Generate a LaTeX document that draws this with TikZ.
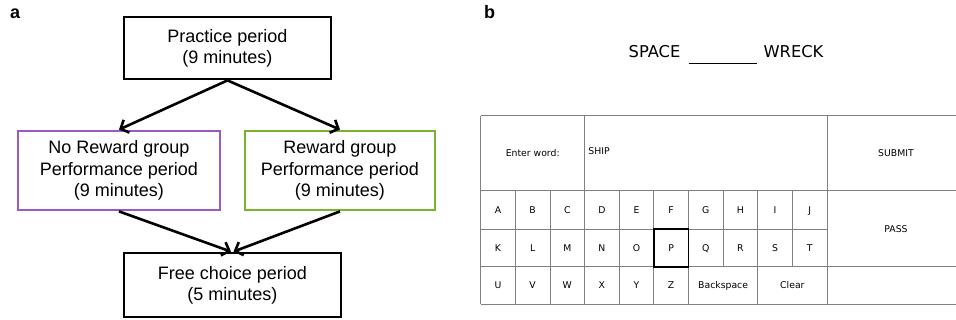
\documentclass[tikz,border=0pt]{standalone}
\usepackage{fontspec}
\setmainfont{Liberation Sans}
\newfontfamily\keyfont{DejaVu Sans}
\usetikzlibrary{arrows.meta}
\definecolor{noRewardPurple}{HTML}{9B59C4}
\definecolor{rewardGreen}{HTML}{78B42C}
\definecolor{gridGray}{gray}{0.5}

\begin{document}
\begin{tikzpicture}[x=1pt,y=-1pt,
  stage/.style={draw, line width=2.8pt, align=center, inner sep=0pt,
    font=\fontsize{18}{21.3}\selectfont},
  flow/.style={line width=2.6pt, -{Straight Barb[length=6.5pt,width=14pt]}},
  panel/.style={font=\fontsize{18}{20}\selectfont\bfseries, anchor=base west, inner sep=0pt},
  cue/.style={font=\keyfont\fontsize{16.3}{18}\selectfont, anchor=base, inner sep=0pt},
  key/.style={font=\keyfont\fontsize{9.3}{11}\selectfont, text height=6.8pt, text depth=0pt, inner sep=0pt},
  gridline/.style={draw=gridGray, line width=0.8pt}
]
\useasboundingbox (0,0) rectangle (956,320);

% ---------------- panel a: session timeline ----------------
\node[panel] (labelA) at (10,19) {a};

\node[stage, minimum width=207pt, minimum height=62pt] (practice) at (227.5,48)
  {Practice period\\(9 minutes)};
\node[stage, draw=noRewardPurple, minimum width=202pt, minimum height=79pt] (noreward) at (119,170.5)
  {No Reward group\\Performance period\\(9 minutes)};
\node[stage, draw=rewardGreen, minimum width=190pt, minimum height=79pt] (reward) at (340,170.5)
  {Reward group\\Performance period\\(9 minutes)};
\node[stage, minimum width=217pt, minimum height=64pt] (free) at (232.5,285)
  {Free choice period\\(5 minutes)};

\draw[flow] (practice.south) -- (noreward.north);
\draw[flow] (practice.south) -- (reward.north);
\draw[flow] (noreward.south) -- ([xshift=-1.5pt]free.north);
\draw[flow] (reward.south) -- ([xshift=1pt]free.north);

% ---------------- panel b: word task screen ----------------
\node[panel] (labelB) at (484,19) {b};

\node[cue] (cueLeft) at (654.5,57.7) {SPACE};
\node[cue] (cueRight) at (793.5,57.7) {WRECK};
\coordinate (blankL) at (689,63.3);
\coordinate (blankR) at (757,63.3);
\draw[line width=1.2pt] (blankL) -- (blankR);

% keyboard grid (column width 34.63)
\draw[gridline] (480.7,115.7) -- (956,115.7);
\draw[gridline] (480.7,190.7) -- (956,190.7);
\draw[gridline] (480.7,229.3) -- (827,229.3);
\draw[gridline] (480.7,266.7) -- (956,266.7);
\draw[gridline] (480.7,304.3) -- (956,304.3);
\foreach \x in {480.7,584.59,827}
  \draw[gridline] (\x,115.7) -- (\x,304.3);
\foreach \x in {515.33,549.96,619.22,653.85,688.48,757.74}
  \draw[gridline] (\x,190.7) -- (\x,304.3);
\foreach \x in {723.11,792.37}
  \draw[gridline] (\x,190.7) -- (\x,266.7);

% currently highlighted key
\draw[line width=1.8pt] (653.85,229.3) rectangle (688.48,266.7);

\node[key] (enterLabel) at (532.7,153) {Enter word:};
\node[key, anchor=west] (entry) at (588.2,150.7) {SHIP};
\node[key] (submit) at (896,153) {SUBMIT};
\node[key] (pass) at (896,228.7) {PASS};

\foreach \l [count=\i from 0] in {A,B,C,D,E,F,G,H,I,J}
  \node[key] (key-\l) at ({480.7+(\i+0.5)*34.63},210) {\l};
\foreach \l [count=\i from 0] in {K,L,M,N,O,P,Q,R,S,T}
  \node[key] (key-\l) at ({480.7+(\i+0.5)*34.63},248) {\l};
\foreach \l [count=\i from 0] in {U,V,W,X,Y,Z}
  \node[key] (key-\l) at ({480.7+(\i+0.5)*34.63},285.5) {\l};
\node[key] (key-back) at (723.11,285.5) {Backspace};
\node[key] (key-clear) at (792.37,285.5) {Clear};
\end{tikzpicture}
\end{document}
